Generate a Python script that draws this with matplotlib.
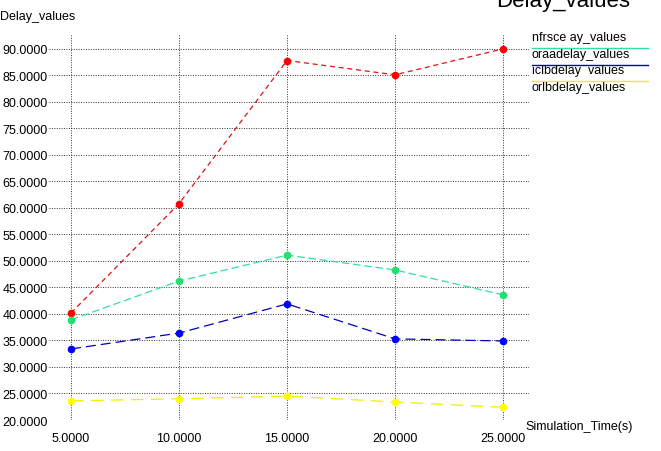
import numpy as np
import matplotlib.pyplot as plt

plt.rc('font', family=['Liberation Sans', 'DejaVu Sans'], size=9)

sim_time = [5, 10, 15, 20, 25]
nfrsce = [40.2, 60.8, 87.8, 85.1, 90.0]
oraa = [38.9, 46.2, 51.1, 48.3, 43.6]
iclb = [33.4, 36.4, 41.9, 35.3, 34.9]
orlb = [23.6, 24.0, 24.5, 23.4, 22.4]

names = ['nfrsce ay_values', 'oraadelay_values', 'iclbdelay  values', 'orlbdelay_values']
line_cols = ['#e01010', '#30e0a0', '#0000c0', '#f0f000']
mark_cols = ['#ff0000', '#20e070', '#0000ff', '#ffff00']

fig = plt.figure(figsize=(6.61, 4.52), dpi=100)
ax = fig.add_axes([49/661, 31/452, 480/661, 386/452])

series = [nfrsce, oraa, iclb, orlb]
dashes = [(4, 3), (6, 3), (8, 4), (10, 6)]
for y, lc, mc, d in zip(series, line_cols, mark_cols, dashes):
    ax.plot(sim_time, y, color=lc, linewidth=0.9, dashes=d, zorder=3)
    ax.plot(sim_time, y, 'o', color=mc, markersize=4.5, zorder=4)

ax.set_xlim(3.98, 26.2)
ax.set_ylim(20, 92.8)
ax.set_xticks(sim_time)
ax.set_yticks(np.arange(20, 91, 5))
ax.set_xticklabels(['%.4f' % v for v in sim_time])
ax.set_yticklabels(['%.4f' % v for v in np.arange(20, 91, 5)])
ax.tick_params(axis='y', length=0, pad=1, labelsize=9)
ax.tick_params(axis='x', length=0, pad=9, labelsize=9)
ax.grid(axis='both', color='#333333', linestyle=(0, (1, 1.5)), linewidth=0.7)
for s in ax.spines.values():
    s.set_visible(False)

fig.text(0.0, 1 - 17/452, 'Delay_values', fontsize=9, va='center', ha='left')
fig.text(525/661, 1 - 427/452, 'Simulation_Time(s)', fontsize=9, va='center', ha='left')
fig.text(630/661, 1 - 1/452, 'Delay_values', fontsize=16, va='center', ha='right')

# legend drawn by hand
text_y = [38, 55, 71, 88]
for n, ty in zip(names, text_y):
    fig.text(532/661, 1 - ty/452, n, fontsize=9, va='center', ha='left')
for lc, ly in zip(line_cols[1:], [49, 66, 82]):
    fig.add_artist(plt.Line2D([532/661, 648/661], [1 - ly/452, 1 - ly/452], color=lc, linewidth=1))

plt.savefig('out.png', dpi=100)
